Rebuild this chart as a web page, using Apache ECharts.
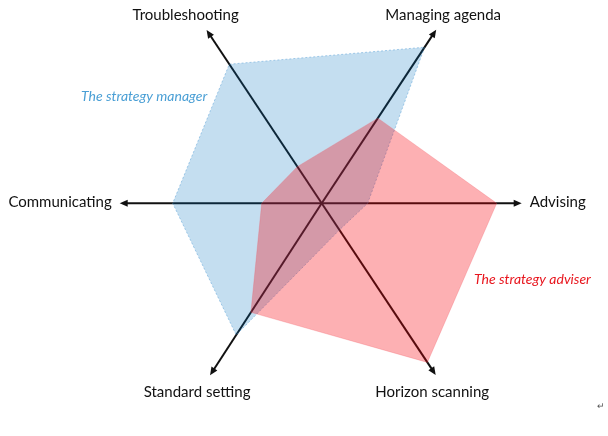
<!DOCTYPE html>
<html><head><meta charset="utf-8">
<script src="https://cdn.jsdelivr.net/npm/echarts@6/dist/echarts.min.js"></script>
<style>html,body{margin:0;padding:0;background:#fff}#c{width:608px;height:436px}</style>
</head><body><div id="c"></div>
<script>
// ---- data ----
const categories = ['Advising', 'Managing agenda', 'Troubleshooting', 'Communicating', 'Standard setting', 'Horizon scanning'];
const managerValues = [23, 93.5, 83.5, 74.5, 78.5, 16];
const adviserValues = [87.5, 51, 22, 30, 65, 95.5];
const axisLengths = [100, 104, 104, 101, 102.5, 103];
const seriesNames = ['The strategy manager', 'The strategy adviser'];

// ---- layout / style constants ----
const axisAngles = [0, 56.6, 123.6, 180, 237, 303.6];
const labelOffsets = [[8, -1], [7, -14], [-21, -15], [-8, -1], [-13, 17], [-3.5, 17]];
const labelAligns = ['left', 'center', 'center', 'right', 'center', 'center'];
const FONT = 'Lato, "Open Sans", sans-serif';

const chart = echarts.init(document.getElementById('c'), null, { renderer: 'canvas' });

function polygonSeries(name, values, fill, stroke, dash) {
  return {
    type: 'custom', name: name, coordinateSystem: 'polar', silent: true,
    dimensions: categories.slice(),
    data: [values],
    renderItem: function (params, api) {
      const pts = axisAngles.map(function (a, i) { return api.coord([api.value(i), a]); });
      return { type: 'polygon', shape: { points: pts },
        style: { fill: fill, stroke: stroke, lineWidth: 1, lineDash: dash } };
    }
  };
}

const axesSeries = {
  type: 'custom', name: 'axes', coordinateSystem: 'polar', silent: true,
  data: axisLengths.map(function (L, i) { return [L, axisAngles[i]]; }),
  renderItem: function (params, api) {
    const i = params.dataIndex;
    const L = api.value(0), a = api.value(1);
    const c = api.coord([0, a]);
    const t = api.coord([L, a]);
    const dx = t[0] - c[0], dy = t[1] - c[1];
    const len = Math.hypot(dx, dy);
    const ux = dx / len, uy = dy / len;
    const ah = 8, aw = 3.5;
    const b = [t[0] - ux * ah, t[1] - uy * ah];
    const p1 = [b[0] - uy * aw, b[1] + ux * aw];
    const p2 = [b[0] + uy * aw, b[1] - ux * aw];
    const off = labelOffsets[i];
    return { type: 'group', children: [
      { type: 'line', shape: { x1: c[0], y1: c[1], x2: b[0] + ux * 2, y2: b[1] + uy * 2 },
        style: { stroke: '#111', lineWidth: 2 } },
      { type: 'polygon', shape: { points: [t, p1, p2] }, style: { fill: '#111' } },
      { type: 'text', x: t[0] + off[0], y: t[1] + off[1],
        style: { text: categories[i], fill: '#111', fontSize: 15, fontFamily: FONT,
          align: labelAligns[i], verticalAlign: 'middle' } }
    ] };
  }
};

chart.setOption({
  animation: false,
  backgroundColor: '#fff',
  polar: { center: [321.7, 203.3], radius: 200 },
  angleAxis: { type: 'value', min: 0, max: 360, startAngle: 0, clockwise: false, show: false,
    axisLine: { show: false }, axisTick: { show: false }, axisLabel: { show: false }, splitLine: { show: false } },
  radiusAxis: { type: 'value', min: 0, max: 100, show: false,
    axisLine: { show: false }, axisTick: { show: false }, axisLabel: { show: false }, splitLine: { show: false } },
  graphic: [
    { type: 'text', left: 81, top: 89, style: { text: seriesNames[0], fill: '#4a9fd5',
      fontSize: 14, fontStyle: 'italic', fontFamily: FONT } },
    { type: 'text', left: 474, top: 272, style: { text: seriesNames[1], fill: '#e8161e',
      fontSize: 14, fontStyle: 'italic', fontFamily: FONT } },
    { type: 'text', left: 597, top: 402, style: { text: '\u21B5', fill: '#555', fontSize: 9, fontFamily: FONT } }
  ],
  series: [
    axesSeries,
    polygonSeries(seriesNames[0], managerValues, 'rgba(0,112,192,0.23)', 'rgba(70,150,210,0.45)', [2, 2]),
    polygonSeries(seriesNames[1], adviserValues, 'rgba(250,0,10,0.31)', 'rgba(240,80,90,0.25)', null)
  ]
});
</script>
</body></html>
